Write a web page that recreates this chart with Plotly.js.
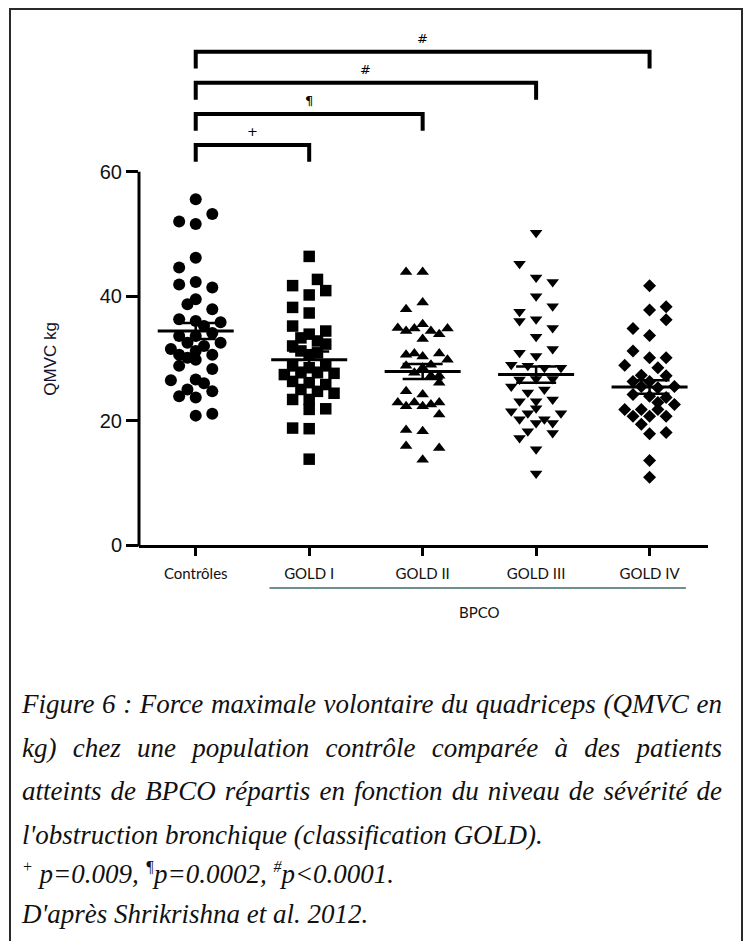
<!DOCTYPE html>
<html>
<head>
<meta charset="utf-8">
<script src="https://cdn.plot.ly/plotly-3.0.1.min.js"></script>
<style>
  html, body { margin:0; padding:0; background:#fff; }
  #wrap { position:relative; width:746px; height:941px; overflow:hidden; }
  #chart { position:absolute; left:0; top:0; width:746px; height:941px; }
  #frame { position:absolute; left:9px; top:8px; width:730px; height:1000px; border:2px solid #2a2a2a; pointer-events:none; }
  .cap { position:absolute; left:22px; width:700px; font-family:'Liberation Serif','Times New Roman',serif; font-style:italic; font-size:27px; color:#111; }
  #cap1 { top:683px; line-height:43.5px; text-align:justify; }
  #cap2 { top:854px; line-height:40px; }
  #cap3 { top:894px; line-height:40px; }
  .cap sup { font-size:16px; line-height:0; vertical-align:0.7em; }
</style>
</head>
<body>
<div id="wrap">
  <div id="chart"></div>
  <div id="frame"></div>
  <div class="cap" id="cap1">Figure 6 : Force maximale volontaire du quadriceps (QMVC en kg) chez une population contrôle comparée à des patients atteints de BPCO répartis en fonction du niveau de sévérité de l'obstruction bronchique (classification GOLD).</div>
  <div class="cap" id="cap2"><sup>+</sup> p=0.009, <sup>¶</sup>p=0.0002, <sup>#</sup>p&lt;0.0001.</div>
  <div class="cap" id="cap3">D'après Shrikrishna et al. 2012.</div>
</div>
<script>
// ---- data ----
const categories = ["Contrôles", "GOLD I", "GOLD II", "GOLD III", "GOLD IV"];
const groupLabel = "BPCO";
const yTitle = "QMVC kg";
const yTicks = [0, 20, 40, 60];

const controlsVals = [55.6,53.2,52.0,51.6,46.2,44.6,41.9,42.3,41.4,39.5,38.7,37.9,36.3,36.0,35.8,35.2,33.6,33.6,34.1,32.5,32.5,32.0,31.5,31.2,30.6,30.6,30.1,29.8,28.8,28.3,26.5,26.6,26.0,25.0,24.7,23.9,23.7,20.8,21.1];
const controlsCols = [0,2,-2,0,0,-2,-2,0,2,0,-1,2,-2,0,3,1,-2,0,2,3,-1,1,-3,0,-2,2,-1,0,-2,2,-3,0,1,-1,2,-2,0,0,2];

const goldIVals = [46.4,42.7,41.7,40.9,40.2,38.2,37.3,35.2,34.4,33.9,33.3,32.8,32.3,32.0,31.2,30.9,30.6,28.8,28.8,28.5,27.4,27.7,27.7,27.6,26.3,26.1,25.8,25.0,24.7,24.4,23.4,23.4,21.8,21.9,18.8,18.7,13.8];
const goldICols = [0,1,-2,2,0,-2,0,-2,2,0,-1,1,2,-2,-1,1,0,-2,2,0,-3,-1,1,3,-2,0,2,-1,1,3,-2,0,0,2,-2,0,0];

const goldIIVals = [43.9,43.9,39.0,37.9,34.9,34.4,35.5,34.8,34.4,33.9,34.8,33.1,30.6,30.8,30.3,30.8,29.8,28.8,29.0,28.5,27.7,27.2,27.2,26.1,24.7,24.2,22.9,22.3,22.9,22.3,22.6,22.9,21.0,18.5,18.3,15.9,15.6,13.7];
const goldIICols = [-2,0,0,-2,-3,-2,0,-1,1,2,3,0,-2,-1,0,2,3,-2,1,0,-1,2,1,2,-2,0,-3,-2,-1,0,1,2,2,-2,0,-2,2,0];

const goldIIIVals = [50.2,45.2,43.0,42.3,40.0,38.4,37.5,36.0,36.3,34.9,33.5,31.5,30.9,30.4,29.0,28.8,28.5,28.5,26.6,26.7,26.7,25.5,25.0,24.5,23.4,23.1,23.1,21.5,21.2,22.0,21.2,20.2,20.2,19.6,19.6,18.3,18.0,17.2,15.4,11.5];
const goldIIICols = [0,-2,0,2,0,2,-2,-2,0,2,0,2,-2,0,-3,-1,1,3,-2,0,2,-3,1,-1,2,-2,0,-3,-1,0,3,-2,1,2,0,-1,2,-2,0,0];

const goldIVVals = [41.7,37.8,38.3,36.2,34.8,33.7,31.2,30.1,30.1,28.9,28.5,27.3,27.2,26.3,26.3,25.3,25.5,25.5,24.2,23.9,23.7,22.6,22.9,21.8,21.8,21.8,20.7,20.7,20.7,19.4,17.9,18.1,13.6,10.9];
const goldIVCols = [0,0,2,2,-2,0,-2,0,2,-3,1,-1,2,-2,0,1,3,-1,-2,0,2,3,1,-3,-1,1,-2,0,2,-1,0,2,0,0];

const means = [34.4, 29.8, 27.9, 27.4, 25.4];
const sems = [1.3, 1.3, 1.2, 1.3, 1.1];

// significance brackets: [from, to, label]
const bracketFrom = [0, 0, 0, 0];
const bracketTo = [1, 2, 3, 4];
const bracketLabels = ["+", "¶", "#", "#"];
const bracketLevels = [64.3, 69.3, 74.3, 79.3];

// ---- styles ----
const groupVals = [controlsVals, goldIVals, goldIIVals, goldIIIVals, goldIVVals];
const groupCols = [controlsCols, goldICols, goldIICols, goldIIICols, goldIVCols];
const symbols = ["circle", "square", "triangle-up", "triangle-down", "diamond"];
const sizes = [12, 11.5, 11, 11, 10];
const colStep = 0.073;
const meanHalf = 0.335;
const bracketDrop = 2.7;

const traces = [];
groupVals.forEach((vals, g) => {
  traces.push({
    type: "scatter", mode: "markers",
    x: vals.map((v, i) => g + groupCols[g][i] * colStep),
    y: vals,
    marker: { symbol: symbols[g], size: sizes[g], color: "#000", line: { width: 0 } },
    hoverinfo: "skip", showlegend: false
  });
});
// mean lines
const mx = [], my = [];
means.forEach((m, g) => { mx.push(g - meanHalf, g + meanHalf, null); my.push(m, m, null); });
traces.push({ type: "scatter", mode: "lines", x: mx, y: my, line: { color: "#000", width: 3 }, showlegend: false, hoverinfo: "skip" });
// SEM
traces.push({
  type: "scatter", mode: "markers", x: means.map((m, g) => g), y: means,
  marker: { size: 1, color: "rgba(0,0,0,0)" },
  error_y: { type: "data", array: sems, visible: true, color: "#000", thickness: 2.5, width: 20 },
  showlegend: false, hoverinfo: "skip"
});

const yMax = 82.8;
const shapes = [
  { type: "line", xref: "paper", yref: "paper", x0: 0, x1: 0, y0: -0.003, y1: 60 / yMax, line: { color: "#000", width: 3 } },
  { type: "line", xref: "x", yref: "paper", x0: 0.65, x1: 4.32, y0: -0.0835, y1: -0.0835, line: { color: "#3f6a68", width: 1.5 } }
];
const annotations = [
  { xref: "paper", yref: "y", x: -0.156, y: 30, xanchor: "center", yanchor: "middle", text: yTitle, textangle: -90, showarrow: false,
    font: { family: "Liberation Sans, Arial, sans-serif", size: 17, color: "#14142a" } },
  { xref: "x", yref: "paper", x: 2.5, y: -0.131, xanchor: "center", yanchor: "middle", text: groupLabel, showarrow: false,
    font: { family: "Lato, sans-serif", size: 15, color: "#111" } }
];
bracketFrom.forEach((a, k) => {
  const b = bracketTo[k], lv = bracketLevels[k];
  shapes.push({ type: "path", xref: "x", yref: "y",
    path: `M ${a},${lv - bracketDrop} L ${a},${lv} L ${b},${lv} L ${b},${lv - bracketDrop}`,
    line: { color: "#000", width: 4 } });
  annotations.push({ xref: "x", yref: "y", x: (a + b) / 2, y: lv + 0.6, yanchor: "bottom", text: bracketLabels[k],
    showarrow: false, font: { family: "DejaVu Sans, Liberation Sans, sans-serif", size: 13, color: "#000" } });
});

const layout = {
  width: 746, height: 941,
  margin: { l: 139, r: 38, t: 30, b: 396 },
  paper_bgcolor: "rgba(0,0,0,0)", plot_bgcolor: "rgba(0,0,0,0)",
  showlegend: false,
  xaxis: {
    range: [-0.5, 4.515], showgrid: false, zeroline: false,
    showline: true, linecolor: "#000", linewidth: 3,
    ticks: "outside", ticklen: 8, tickwidth: 3, tickcolor: "#000",
    tickvals: [0, 1, 2, 3, 4], ticktext: categories, ticklabelstandoff: 5,
    tickfont: { family: "Lato, sans-serif", size: 15, color: "#111" }
  },
  yaxis: {
    range: [0, yMax], showgrid: false, zeroline: false, showline: false,
    ticks: "outside", ticklen: 12, tickwidth: 3, tickcolor: "#000",
    tickvals: yTicks, ticktext: yTicks.map(String),
    tickfont: { family: "Liberation Sans, Arial, sans-serif", size: 20, color: "#111" }
  },
  shapes: shapes,
  annotations: annotations
};

Plotly.newPlot("chart", traces, layout, { staticPlot: true, displayModeBar: false });
</script>
</body>
</html>
